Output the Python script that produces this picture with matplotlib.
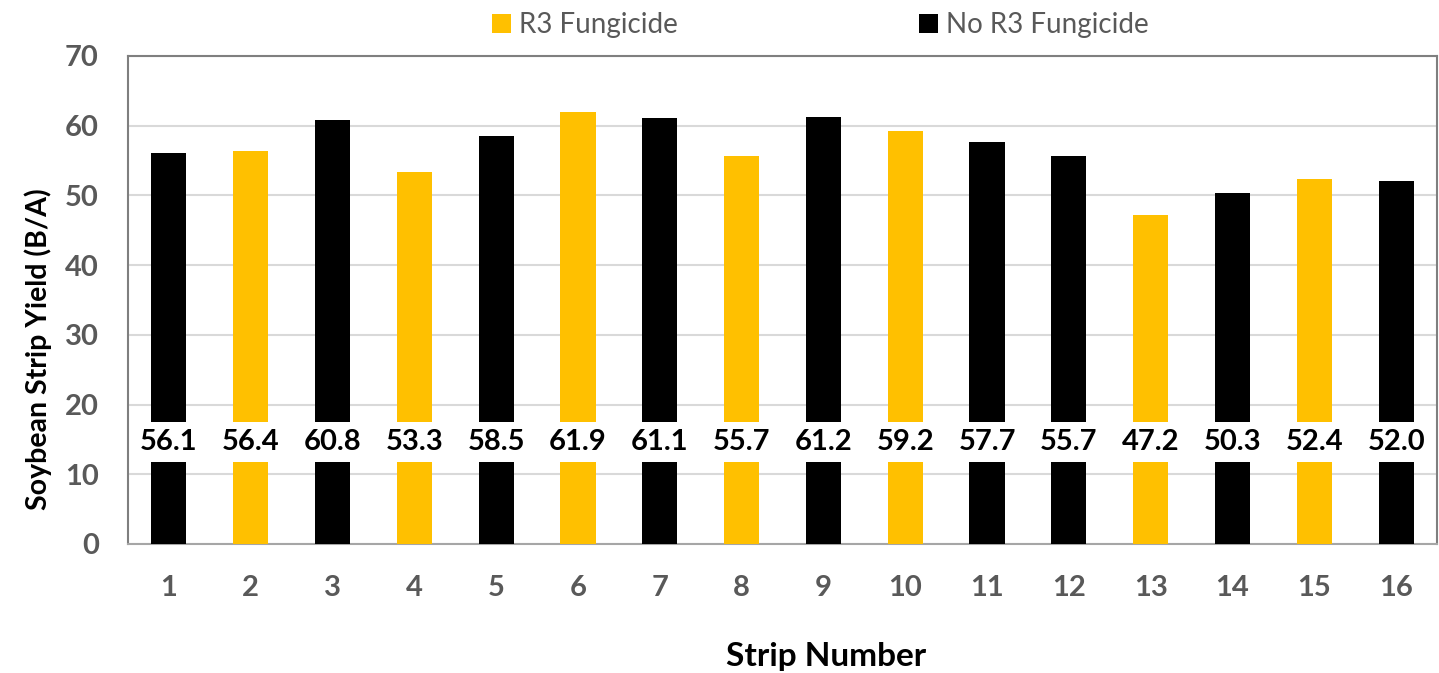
import matplotlib.pyplot as plt
from matplotlib.patches import Patch

# data
strips = list(range(1, 17))
yields = [56.1, 56.4, 60.8, 53.3, 58.5, 61.9, 61.1, 55.7, 61.2, 59.2, 57.7, 55.7, 47.2, 50.3, 52.4, 52.0]
treat = ['No', 'R3', 'No', 'R3', 'No', 'R3', 'No', 'R3', 'No', 'R3', 'No', 'No', 'R3', 'No', 'R3', 'No']
yticks = [0, 10, 20, 30, 40, 50, 60, 70]

gold = '#FFC000'
colors = {'R3': gold, 'No': '#000000'}
plt.rcParams['font.family'] = ['Lato', 'DejaVu Sans']

fig = plt.figure(figsize=(14.39, 6.73), dpi=100)
ax = fig.add_axes([128 / 1439, 129 / 673, 1309 / 1439, 488 / 673])

ax.bar(strips, yields, width=0.43, color=[colors[t] for t in treat], zorder=3)
for x, v in zip(strips, yields):
    ax.text(x, 14.6, f'{v:.1f}', ha='center', va='center', fontsize=21, fontweight='bold',
            color='black', zorder=4,
            bbox=dict(facecolor='white', edgecolor='none', pad=5))

ax.set_ylim(0, 70)
ax.set_xlim(0.5, 16.5)
ax.set_yticks(yticks)
ax.set_xticks(strips)
ax.yaxis.grid(True, color='#d9d9d9', linewidth=1.5, zorder=0)
ax.set_axisbelow(True)
ax.tick_params(length=0, labelsize=21, labelcolor='#595959')
ax.tick_params(axis='x', pad=22)
ax.tick_params(axis='y', pad=21)
for lab in ax.get_xticklabels() + ax.get_yticklabels():
    lab.set_fontweight('bold')
for s in ax.spines.values():
    s.set_color('#7f7f7f')
    s.set_linewidth(1.5)
ax.spines['bottom'].set_color('#a6a6a6')

ax.set_ylabel('Soybean Strip Yield (B/A)', fontsize=20.5, fontweight='bold')
ax.yaxis.set_label_coords(-0.058, 0.40)
ax.set_xlabel('Strip Number', fontsize=24, fontweight='bold')
ax.xaxis.set_label_coords(0.533, -0.20)

handles = [Patch(facecolor=gold), Patch(facecolor='black')]
fig.legend(handles, ['R3 Fungicide', 'No R3 Fungicide'], loc='center left', bbox_to_anchor=(492 / 1439, 0.963),
           ncol=2, frameon=False, fontsize=20, labelcolor='#595959', handlelength=0.68, handleheight=0.68,
           handletextpad=0.29, columnspacing=8.7, borderpad=0, borderaxespad=0)

fig.savefig('out.png', dpi=100)
